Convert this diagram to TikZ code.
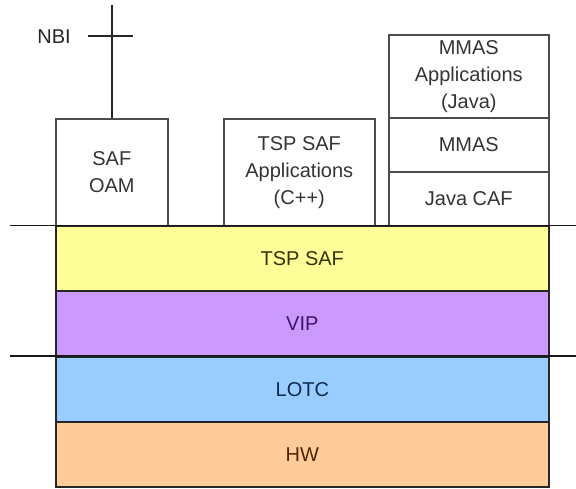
\documentclass[tikz,border=0pt]{standalone}
\usepackage{fontspec}
\setmainfont{Liberation Sans}
\definecolor{lyellow}{HTML}{FFFF99}
\definecolor{lviolet}{HTML}{CC99FF}
\definecolor{lblue}{HTML}{99CCFF}
\definecolor{lorange}{HTML}{FFCC99}
\definecolor{tyellow}{HTML}{333300}
\definecolor{tviolet}{HTML}{3D1466}
\definecolor{tblue}{HTML}{0D2A4D}
\definecolor{torange}{HTML}{4D2600}
\begin{document}
\begin{tikzpicture}[x=1pt,y=-1pt,
  box/.style={draw=black!70, line width=1.6pt, anchor=north west, inner sep=0pt,
    align=center, font=\fontsize{20}{27}\selectfont, text=black!80},
  layer/.style={box, draw=black!85, minimum width=493pt, minimum height=65pt},
  rule/.style={draw=black!90, line width=1.9pt},
  wire/.style={draw=black!85, line width=1.6pt}]
\useasboundingbox (0,0) rectangle (576,489);
% top boxes
\node[box, minimum width=112pt, minimum height=107pt] (oam) at (55,118) {SAF\\OAM};
\node[box, minimum width=151pt, minimum height=107pt] (tspapp) at (223,118) {TSP SAF\\Applications\\(C++)};
\node[box, minimum width=160pt, minimum height=83pt] (mmasapp) at (388,34) {MMAS\\Applications\\(Java)};
\node[box, minimum width=160pt, minimum height=54pt] (mmas) at (388,117) {MMAS};
\node[box, minimum width=160pt, minimum height=54pt] (jcaf) at (388,171) {Java CAF};
% layers
\node[layer, fill=lyellow, text=tyellow] (tspsaf) at (55,225) {TSP SAF};
\node[layer, fill=lviolet, text=tviolet] (vip) at (55,290) {VIP};
\node[layer, fill=lblue, text=tblue] (lotc) at (55,356) {LOTC};
\node[layer, fill=lorange, text=torange] (hw) at (55,421) {HW};
% horizontal rules
\coordinate (r1l) at (10,225.5);
\coordinate (r1r) at (576,225.5);
\coordinate (r2l) at (10,356);
\coordinate (r2r) at (576,356);
\draw[rule] (r1l) -- (r1r);
\draw[rule] (r2l) -- (r2r);
% NBI
\coordinate (nbitop) at (oam.north |- 0,5);
\coordinate (crossl) at (88,36);
\coordinate (crossr) at (133,36);
\draw[wire] (nbitop) -- (oam.north);
\draw[wire] (crossl) -- (crossr);
\node[anchor=east, inner sep=0pt, font=\fontsize{20}{27}\selectfont, text=black!85] (nbi) at (71,37) {NBI};
\end{tikzpicture}
\end{document}
